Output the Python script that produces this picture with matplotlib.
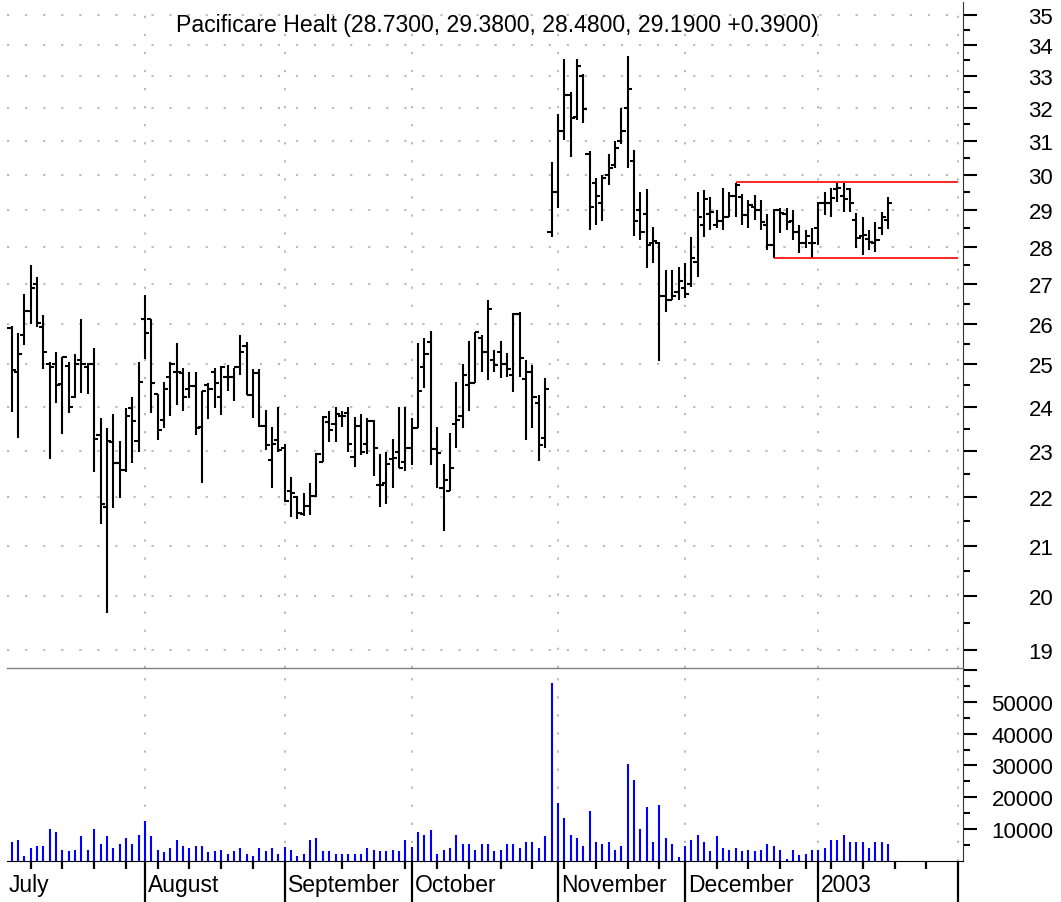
import matplotlib
matplotlib.use("Agg")
import matplotlib.pyplot as plt
from matplotlib.ticker import FixedLocator, NullFormatter, FixedFormatter
import numpy as np

plt.rcParams['font.family'] = ['Liberation Sans', 'DejaVu Sans']
plt.rcParams['lines.scale_dashes'] = False

# daily OHLC, Jul 2 2002 .. Jan 17 2003 (trading-day index 0..138)
opens = [
    25.90, 24.83, 25.72, 26.33, 27.00, 25.92, 25.00, 25.02, 24.53, 24.97, 24.24, 25.10, 24.95, 25.00, 23.35, 21.80, 23.21, 22.73, 22.59, 23.97, 23.23,
    26.13, 26.13, 24.30, 23.70, 24.69, 24.83, 24.79, 24.42, 24.48, 23.54, 24.52, 24.83, 24.24, 24.69, 24.69, 24.93, 25.44, 24.28, 24.79, 23.57, 22.80, 23.25,
    23.06, 22.13, 22.00, 21.65, 21.81, 22.02, 22.76, 23.66, 23.60, 23.79, 23.85, 22.88, 23.57, 23.17, 23.68, 22.27, 22.31, 22.83, 22.99, 22.76,
    23.07, 23.51, 24.94, 25.55, 23.04, 22.21, 22.14, 23.60, 23.79, 24.51, 24.55, 25.64, 25.31, 25.10, 25.30, 25.00, 24.76, 26.25, 24.65, 24.81, 24.08, 23.30, 28.40,
    29.52, 31.30, 32.40, 31.73, 33.00, 30.60, 29.78, 29.20, 30.00, 30.30, 31.00, 32.00, 30.40, 29.00, 28.90, 28.10, 28.10, 26.70, 26.61, 26.80,
    26.90, 27.00, 27.60, 28.60, 28.90, 28.60, 28.70, 28.80, 29.40, 29.38, 28.87, 29.10, 29.00, 28.60, 28.04, 29.00, 28.90, 28.70, 28.40, 28.10, 28.10,
    28.50, 29.20, 29.20, 29.60, 29.40, 29.60, 28.73, 28.30, 28.20, 28.10, 28.50, 28.73,
]
highs = [
    25.95, 25.78, 26.76, 27.51, 27.20, 26.22, 25.07, 25.29, 25.17, 25.07, 25.25, 26.13, 25.03, 25.40, 23.74, 23.52, 23.84, 23.23, 23.97, 24.24, 25.05,
    26.72, 26.13, 24.30, 24.59, 25.05, 25.53, 24.92, 24.83, 24.81, 24.38, 24.56, 24.92, 24.97, 24.98, 24.92, 25.73, 25.54, 24.89, 24.89, 23.92, 23.54, 24.00,
    23.17, 22.43, 22.02, 22.09, 22.31, 22.95, 23.80, 23.90, 24.00, 23.90, 24.00, 23.77, 23.83, 23.74, 23.70, 22.93, 22.99, 23.27, 24.00, 24.00,
    23.74, 25.52, 25.64, 25.81, 23.53, 22.71, 23.40, 24.59, 25.00, 25.58, 25.79, 25.73, 26.59, 25.36, 25.58, 25.27, 26.27, 26.30, 25.10, 24.98, 24.27, 24.68, 30.38,
    31.80, 33.55, 32.50, 33.55, 33.05, 30.70, 29.90, 30.00, 30.60, 31.00, 32.00, 33.65, 30.74, 29.50, 29.60, 28.53, 28.12, 27.38, 27.38, 27.46,
    27.57, 28.26, 29.50, 29.57, 29.38, 29.00, 29.63, 29.50, 29.78, 29.45, 29.29, 29.43, 29.29, 28.90, 29.04, 29.07, 29.07, 29.00, 28.60, 28.45, 28.50,
    29.23, 29.50, 29.63, 29.78, 29.78, 29.63, 28.93, 28.82, 28.45, 28.67, 28.95, 29.38,
]
lows = [
    23.89, 23.29, 25.48, 26.00, 25.92, 24.90, 22.83, 24.09, 23.39, 23.86, 24.20, 24.32, 24.30, 22.54, 21.45, 19.68, 21.78, 21.99, 22.55, 22.73, 22.99,
    25.13, 23.86, 23.25, 23.52, 23.78, 24.05, 23.91, 24.20, 23.36, 22.31, 23.73, 23.97, 23.82, 24.36, 24.13, 24.75, 24.28, 23.74, 23.55, 23.02, 22.20, 22.99,
    21.90, 21.58, 21.55, 21.60, 21.63, 22.00, 22.76, 23.21, 23.21, 23.53, 22.99, 22.66, 22.91, 22.93, 22.45, 21.79, 21.85, 22.21, 22.63, 22.57,
    22.70, 23.51, 24.43, 22.70, 22.20, 21.30, 22.14, 23.08, 23.51, 23.90, 24.55, 24.83, 24.63, 24.81, 24.67, 24.69, 24.35, 24.71, 23.25, 23.51, 22.79, 23.08, 28.26,
    29.07, 31.04, 30.53, 31.64, 31.55, 28.45, 28.60, 28.70, 29.70, 30.20, 30.90, 30.20, 28.30, 28.18, 27.44, 27.57, 25.08, 26.30, 26.61, 26.61,
    26.66, 26.94, 27.20, 28.26, 28.45, 28.50, 28.45, 28.80, 28.80, 28.60, 28.50, 28.73, 28.45, 27.91, 27.70, 28.37, 28.45, 28.18, 27.83, 27.96, 27.70,
    28.04, 28.87, 28.80, 29.23, 28.96, 28.96, 27.96, 27.78, 27.91, 27.86, 28.32, 28.48,
]
closes = [
    24.87, 25.25, 26.33, 26.91, 26.03, 25.29, 24.95, 24.52, 25.17, 24.00, 25.00, 25.02, 25.00, 23.27, 21.87, 23.22, 22.73, 22.59, 23.78, 23.67, 24.59,
    25.78, 24.55, 23.48, 24.42, 25.02, 24.83, 24.24, 24.48, 23.52, 24.38, 24.42, 24.55, 24.95, 24.69, 24.93, 25.30, 24.28, 24.79, 23.57, 23.14, 23.17, 23.02,
    21.92, 22.09, 21.67, 21.81, 22.02, 22.94, 23.77, 23.47, 23.83, 23.79, 23.16, 23.57, 22.99, 23.68, 23.07, 22.27, 22.71, 22.84, 22.63, 23.07,
    23.51, 24.37, 25.25, 23.04, 22.96, 22.37, 22.63, 23.70, 24.76, 24.55, 25.79, 25.31, 26.36, 24.98, 25.00, 24.89, 26.25, 25.15, 24.81, 24.24, 23.13, 24.41, 29.52,
    31.30, 32.40, 31.70, 33.30, 31.95, 29.10, 29.40, 29.90, 30.20, 30.80, 31.30, 32.60, 28.70, 28.40, 28.04, 28.15, 26.69, 26.61, 26.70, 27.10,
    26.75, 27.70, 28.80, 29.30, 28.96, 28.70, 28.80, 29.40, 29.70, 28.87, 29.15, 29.01, 28.67, 28.04, 29.00, 28.93, 28.67, 28.40, 28.10, 28.30, 28.10,
    29.20, 29.20, 29.35, 29.63, 29.30, 29.20, 28.24, 28.32, 28.12, 28.18, 28.80, 29.19,
]
volumes = [
    6000, 6500, 1600, 4100, 4700, 4700, 10200, 9200, 3600, 3000, 3600, 7800, 3600, 10200, 5400, 7800, 4100, 5400, 7300, 5400, 8300,
    12600, 7800, 3600, 2800, 4100, 6500, 4700, 4100, 4700, 4700, 2800, 3000, 3600, 2200, 3000, 4100, 2200, 1600, 4100, 3000, 4100, 2200,
    4300, 3600, 1600, 2200, 6500, 7300, 3000, 3000, 2200, 2200, 2200, 2200, 2200, 4100, 3600, 3000, 3000, 3600, 3000, 6500,
    4300, 9200, 8300, 9700, 2200, 3600, 4100, 8300, 5400, 5400, 3600, 5400, 5400, 3000, 3600, 5400, 5400, 4100, 6000, 6000, 4100, 7800, 56000,
    18100, 13400, 8300, 7300, 4700, 15700, 6000, 5400, 6000, 3600, 4700, 30400, 25500, 10200, 16800, 6000, 17600, 7300, 5400, 1200,
    4700, 6500, 8300, 6000, 3000, 7800, 4100, 3600, 4100, 3000, 3600, 3000, 3600, 5400, 4700, 3600, 500, 3600, 1800, 2200, 3600,
    3600, 4100, 6500, 6500, 8300, 6000, 6000, 6000, 4100, 6000, 6000, 5400,
]

# calendar marks (trading-day index)
month_starts = [21, 43, 63, 86, 106, 127, 149]
month_label_pos = [-1, 21, 43, 63, 86, 106, 127]
month_labels = ["July", "August", "September", "October", "November", "December", "2003"]
week_ticks = [3, 8, 13, 18, 23, 28, 33, 38, 47, 52, 57, 62, 67, 72, 77, 82,
              87, 92, 97, 102, 111, 116, 121, 125, 129, 134, 139, 144]

# trend lines
resist_level, resist_start = 29.80, 114
support_level, support_start = 27.70, 120
line_end = 149

price_ticks = list(range(19, 36))
vol_ticks = [10000, 20000, 30000, 40000, 50000, 60000]
vol_labels = ["10000", "20000", "30000", "40000", "50000", ""]

title = "Pacificare Healt (28.7300, 29.3800, 28.4800, 29.1900 +0.3900)"

W, H = 1061, 903
fig = plt.figure(figsize=(W / 100, H / 100), dpi=100)
left, right = 7, 963
ax_p = fig.add_axes([left / W, (H - 669) / H, (right - left) / W, (669 - 3) / H])
ax_v = fig.add_axes([left / W, (H - 862) / H, (right - left) / W, (862 - 669) / H], sharex=ax_p)
ax_v.patch.set_visible(False)

x = np.arange(len(opens))
tick_w = 0.65
bar_lw = 1.5
ax_p.vlines(x, lows, highs, color="black", lw=bar_lw)
ax_p.hlines(opens, x - tick_w, x, color="black", lw=bar_lw)
ax_p.hlines(closes, x, x + tick_w, color="black", lw=bar_lw)

ax_p.hlines(resist_level, resist_start, line_end, color="#ff0000", lw=1.2)
ax_p.hlines(support_level, support_start, line_end, color="#ff0000", lw=1.2)

ax_v.vlines(x, 0, volumes, color="#0000ff", lw=1.5)

ax_p.set_xlim(-0.72, 149.78)
ax_p.set_yscale("log")
ax_p.set_ylim(18.67, 35.43)
ax_v.set_ylim(0, 60600)

grid_kw = dict(color="#b4b4b4", linestyle=(0, (1.6, 11.4)), lw=1.3)

# price axis
ax_p.yaxis.tick_right()
ax_p.yaxis.set_major_locator(FixedLocator(price_ticks))
ax_p.yaxis.set_major_formatter(FixedFormatter([str(t) for t in price_ticks]))
ax_p.yaxis.set_minor_locator(FixedLocator([t + 0.5 for t in range(18, 35)]))
ax_p.yaxis.set_minor_formatter(NullFormatter())
ax_p.tick_params(axis="y", which="major", length=10, width=1.5, color="black",
                 labelsize=16, pad=55)
ax_p.tick_params(axis="y", which="minor", length=5, width=1.5, color="black")
ax_p.xaxis.set_major_locator(FixedLocator(month_starts))
ax_p.tick_params(axis="x", which="both", length=0, labelbottom=False)
ax_p.grid(True, axis="both", which="major", **grid_kw)
plt.setp(ax_p.get_yticklabels(), ha="right")

# volume axis
ax_v.yaxis.tick_right()
ax_v.yaxis.set_major_locator(FixedLocator(vol_ticks))
ax_v.yaxis.set_major_formatter(FixedFormatter(vol_labels))
ax_v.yaxis.set_minor_locator(FixedLocator(np.arange(5000, 60000, 10000)))
ax_v.tick_params(axis="y", which="major", length=10, width=1.5, color="black",
                 labelsize=16, pad=55)
ax_v.tick_params(axis="y", which="minor", length=5, width=1.5, color="black")
plt.setp(ax_v.get_yticklabels(), ha="right")
ax_v.xaxis.set_major_locator(FixedLocator(month_starts))
ax_v.xaxis.set_minor_locator(FixedLocator(week_ticks))
ax_v.xaxis.set_major_formatter(NullFormatter())
ax_v.tick_params(axis="x", which="major", length=31, width=1.6, color="black", direction="out")
ax_v.tick_params(axis="x", which="minor", length=6, width=1.6, color="black", direction="out")
ax_v.grid(True, axis="x", which="major", **grid_kw)

for lab, pos in zip(month_labels, month_label_pos):
    ax_v.annotate(lab, xy=(pos, 0), xycoords=("data", "axes fraction"),
                  xytext=(2.2, -21.4), textcoords="offset points",
                  ha="left", va="baseline", fontsize=16.5, annotation_clip=False)

for ax in (ax_p, ax_v):
    ax.spines["left"].set_visible(False)
    ax.spines["right"].set_color("#333333")
    ax.spines["right"].set_linewidth(0.8)
ax_p.spines["top"].set_visible(False)
ax_p.spines["bottom"].set_visible(False)
ax_v.spines["top"].set_color("#808080")
ax_v.spines["top"].set_linewidth(1.0)
ax_v.spines["bottom"].set_color("black")
ax_v.spines["bottom"].set_linewidth(0.8)

fig.text(497.5 / W, 1 - 32 / H, title, ha="center", va="baseline", fontsize=16.6)

fig.savefig("out.png", dpi=100)
